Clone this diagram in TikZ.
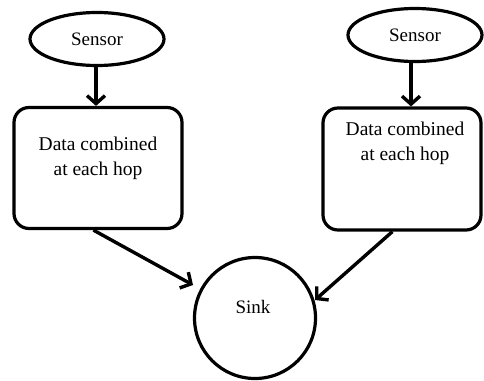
\documentclass[tikz,border=0pt]{standalone}
\usepackage{fontspec}
\setmainfont{Liberation Serif}
\usetikzlibrary{shapes.geometric,arrows.meta,calc}
\begin{document}
\begin{tikzpicture}[x=1pt,y=-1pt,
  shapeline/.style={draw=black,line width=3.2pt},
  sensorshape/.style={shapeline,ellipse,minimum width=134pt,minimum height=53pt,inner sep=0pt,font=\fontsize{19}{24}\selectfont},
  hopbox/.style={shapeline,rectangle,rounded corners=15pt,inner sep=0pt},
  hoptext/.style={align=center,font=\fontsize{19.5}{25}\selectfont,inner sep=0pt},
  sinkshape/.style={shapeline,circle,minimum size=121pt,inner sep=0pt},
  sinktext/.style={font=\fontsize{19}{24}\selectfont,inner sep=0pt},
  flow/.style={line width=3.4pt,-{Straight Barb[length=8pt,width=18pt,line width=3.4pt]}}]
\useasboundingbox (0,0) rectangle (484,380);
% left branch
\node[sensorshape] (ls) at (97,39) {Sensor};
\node[hopbox,minimum width=168pt,minimum height=121pt] (lb) at (98,168) {};
\node[hoptext] (lt) at (98,158) {Data combined\\at each hop};
% right branch
\node[sensorshape] (rs) at (415,35) {Sensor};
\node[hopbox,minimum width=158pt,minimum height=122pt] (rb) at (402,169) {};
\node[hoptext] (rt) at (405,143) {Data combined\\at each hop};
% sink
\node[sinkshape] (sink) at (255,318) {};
\node[sinktext] (st) at (253,307) {Sink};
% connectors
\draw[flow] (ls.south -| 96,0) -- (lb.north -| 96,0);
\draw[flow] (rs.south -| 411,0) -- (rb.north -| 411,0);
\draw[flow] ($(lb.south west)+(81,0)$) -- ($(sink.center)+(-62,-33)$);
\draw[flow] ($(rb.south west)+(71,0)$) -- ($(sink.center)+(60,-18)$);
\end{tikzpicture}
\end{document}
